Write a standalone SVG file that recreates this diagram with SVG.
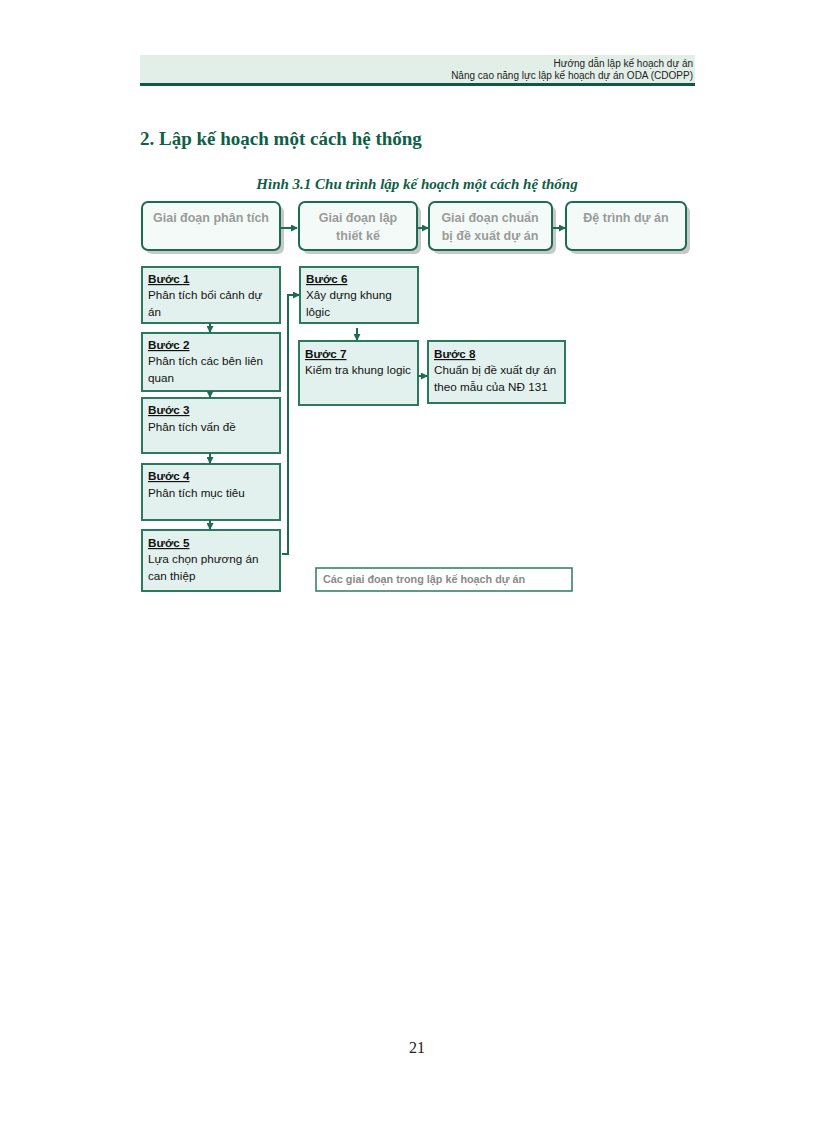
<svg xmlns="http://www.w3.org/2000/svg" width="816" height="1123" viewBox="0 0 816 1123">
<defs>
<style>
.hdr{font-family:"Liberation Sans",Arial,sans-serif;font-size:10px;fill:#222;text-anchor:end}
.title{font-family:"Liberation Serif","Times New Roman",serif;font-size:19px;font-weight:bold;fill:#0f5e47}
.cap{font-family:"Liberation Serif","Times New Roman",serif;font-size:15px;font-weight:bold;font-style:italic;fill:#0f5e47;text-anchor:middle}
.phase rect.b{fill:#f4faf7;stroke:#1e6b53;stroke-width:2}
.phase rect.s{fill:#c8c8c8}
.pt{font-family:"Liberation Sans",Arial,sans-serif;font-size:12.5px;font-weight:bold;fill:#9a9a9a;text-anchor:middle}
.step rect{fill:#e3f1ee;stroke:#2a7a5e;stroke-width:2}
.sh{font-family:"Liberation Sans",Arial,sans-serif;font-size:11.7px;font-weight:bold;fill:#111;text-decoration:underline}
.st{font-family:"Liberation Sans",Arial,sans-serif;font-size:11.7px;fill:#111}
.conn{fill:none;stroke:#1e6b53;stroke-width:2}
.lg{font-family:"Liberation Sans",Arial,sans-serif;font-size:10.8px;font-weight:bold;fill:#8a8a8a}
.pg{font-family:"Liberation Serif","Times New Roman",serif;font-size:16px;fill:#222;text-anchor:middle}
</style>
<marker id="ah" markerWidth="7" markerHeight="7" refX="6" refY="3.5" orient="auto" markerUnits="userSpaceOnUse">
<path d="M0,0 L7,3.5 L0,7 Z" fill="#1e6b53"/>
</marker>
</defs>
<rect width="816" height="1123" fill="#fff"/>
<g id="header">
<rect x="140" y="55" width="555" height="29" fill="#e2efe8"/>
<rect x="140" y="83" width="555" height="3" fill="#0e5a40"/>
<text class="hdr" x="693" y="67">Hướng dẫn lập kế hoạch dự án</text>
<text class="hdr" x="693" y="79">Nâng cao năng lực lập kế hoạch dự án ODA (CDOPP)</text>
</g>
<text class="title" x="140" y="145">2. Lập kế hoạch một cách hệ thống</text>
<text class="cap" x="417" y="189">Hình 3.1 Chu trình lập kế hoạch một cách hệ thống</text>
<g id="phase1" class="phase">
<rect class="s" x="146" y="206" width="138" height="48" rx="6"/>
<rect class="b" x="142" y="202" width="138" height="48" rx="6"/>
<text class="pt" x="211" y="222">Giai đoạn phân tích</text>
</g>
<g id="phase2" class="phase">
<rect class="s" x="303" y="206" width="118" height="48" rx="6"/>
<rect class="b" x="299" y="202" width="118" height="48" rx="6"/>
<text class="pt" x="358" y="222">Giai đoạn lập</text>
<text class="pt" x="358" y="240">thiết kế</text>
</g>
<g id="phase3" class="phase">
<rect class="s" x="433" y="206" width="123" height="48" rx="6"/>
<rect class="b" x="429" y="202" width="123" height="48" rx="6"/>
<text class="pt" x="490" y="222">Giai đoạn chuẩn</text>
<text class="pt" x="490" y="240">bị đề xuất dự án</text>
</g>
<g id="phase4" class="phase">
<rect class="s" x="570" y="206" width="120" height="48" rx="6"/>
<rect class="b" x="566" y="202" width="120" height="48" rx="6"/>
<text class="pt" x="626" y="222">Đệ trình dự án</text>
</g>
<g id="step1" class="step">
<rect x="142" y="267" width="138" height="56"/>
<text class="sh" x="148" y="283">Bước 1</text>
<text class="st" x="148" y="299">Phân tích bối cảnh dự</text>
<text class="st" x="148" y="316">án</text>
</g>
<g id="step2" class="step">
<rect x="142" y="333" width="138" height="58"/>
<text class="sh" x="148" y="349">Bước 2</text>
<text class="st" x="148" y="365">Phân tích các bên liên</text>
<text class="st" x="148" y="382">quan</text>
</g>
<g id="step3" class="step">
<rect x="142" y="398" width="138" height="55"/>
<text class="sh" x="148" y="414">Bước 3</text>
<text class="st" x="148" y="431">Phân tích vấn đề</text>
</g>
<g id="step4" class="step">
<rect x="142" y="464" width="138" height="56"/>
<text class="sh" x="148" y="480">Bước 4</text>
<text class="st" x="148" y="497">Phân tích mục tiêu</text>
</g>
<g id="step5" class="step">
<rect x="142" y="530" width="138" height="61"/>
<text class="sh" x="148" y="547">Bước 5</text>
<text class="st" x="148" y="563">Lựa chọn phương án</text>
<text class="st" x="148" y="580">can thiệp</text>
</g>
<g id="step6" class="step">
<rect x="300" y="267" width="118" height="56"/>
<text class="sh" x="306" y="283">Bước 6</text>
<text class="st" x="306" y="299">Xây dựng khung</text>
<text class="st" x="306" y="316">lôgic</text>
</g>
<g id="step7" class="step">
<rect x="299" y="341" width="119" height="64"/>
<text class="sh" x="305" y="358">Bước 7</text>
<text class="st" x="305" y="374">Kiểm tra khung logic</text>
</g>
<g id="step8" class="step">
<rect x="428" y="341" width="137" height="62"/>
<text class="sh" x="434" y="358">Bước 8</text>
<text class="st" x="434" y="374">Chuẩn bị đề xuất dự án</text>
<text class="st" x="434" y="391">theo mẫu của NĐ 131</text>
</g>
<g id="legend">
<rect x="316" y="568" width="256" height="23" fill="#fff" stroke="#2a7a5e" stroke-width="1.5"/>
<text class="lg" x="323" y="583">Các giai đoạn trong lập kế hoạch dự án</text>
</g>
<g id="connectors">
<path class="conn" d="M280,228 L297,228" marker-end="url(#ah)"/>
<path class="conn" d="M417,228 L428,228" marker-end="url(#ah)"/>
<path class="conn" d="M552,228 L565,228" marker-end="url(#ah)"/>
<path class="conn" d="M210,323 L210,332" marker-end="url(#ah)"/>
<path class="conn" d="M210,391 L210,397" marker-end="url(#ah)"/>
<path class="conn" d="M210,453 L210,463" marker-end="url(#ah)"/>
<path class="conn" d="M210,520 L210,529" marker-end="url(#ah)"/>
<path class="conn" d="M282,554 L288,554 L288,295 L299,295" marker-end="url(#ah)"/>
<path class="conn" d="M357,328 L357,340" marker-end="url(#ah)"/>
<path class="conn" d="M418,376 L427,376" marker-end="url(#ah)"/>
</g>
<text class="pg" x="417" y="1053">21</text>
</svg>
